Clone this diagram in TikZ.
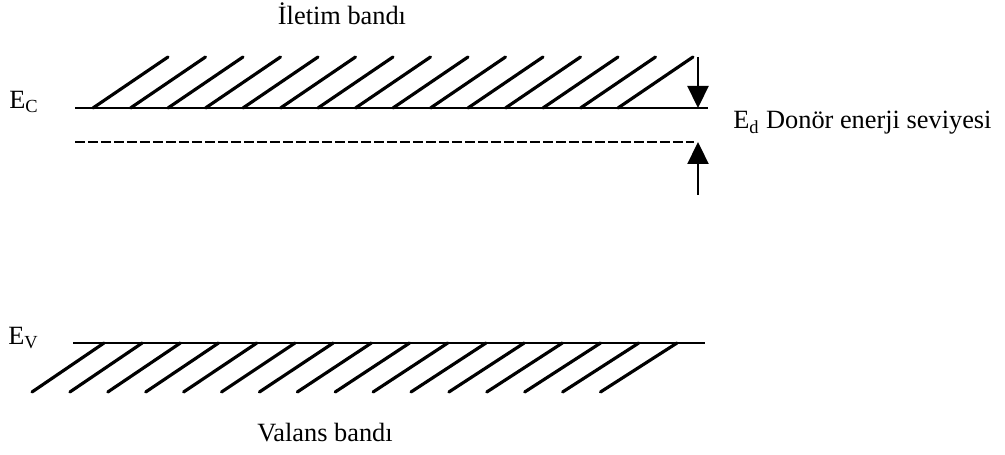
\documentclass[tikz,border=0pt]{standalone}
\usepackage{fontspec}
\setmainfont{Liberation Serif}
\usepackage{tikz}
\usetikzlibrary{arrows.meta, positioning}

\begin{document}
\begin{tikzpicture}[
    x=0.02cm, y=-0.02cm,
    lbl/.style={inner sep=0pt, font=\fontsize{15}{18}\selectfont},
    level/.style={line width=1.6pt},
    donor/.style={line width=1.3pt, dash pattern=on 2mm off 0.6mm},
    hatch/.style={line width=1.8pt, line cap=round},
    arrow/.style={-{Triangle[length=4.4mm, width=4.2mm]}, line width=1.3pt}
]
\useasboundingbox (0,0) rectangle (1005,455);

% Conduction band
\coordinate (ecL) at (75,108);
\coordinate (ecR) at (708,108);
\draw[level] (ecL) -- (ecR);
\foreach \i in {0,...,14} {
    \draw[hatch] ({93+37.5*\i},108) -- ({168+37.5*\i},57);
}

% Donor level
\coordinate (edL) at (75,142);
\coordinate (edR) at (694,142);
\draw[donor] (edL) -- (edR);

% Valence band
\coordinate (evL) at (73,343);
\coordinate (evR) at (705,343);
\draw[level] (evL) -- (evR);
\foreach \i in {0,...,15} {
    \draw[hatch] ({32+37.9*\i},392) -- ({104+38.2*\i},343);
}

% Arrows
\coordinate (downTop) at (698,57);
\coordinate (downTip) at (698,108);
\coordinate (upBot) at (698,195);
\coordinate (upTip) at (698,142);
\draw[arrow] (downTop) -- (downTip);
\draw[arrow] (upBot) -- (upTip);

% Labels
\node[lbl, anchor=base] (iletim) at (342,25) {İletim bandı};
\node[lbl, anchor=base west] (ec) at (9,109) {E\textsubscript{C}};
\node[lbl, anchor=base west] (ed) at (733,129) {E\textsubscript{d} Donör enerji seviyesi};
\node[lbl, anchor=base west] (ev) at (8,345) {E\textsubscript{V}};
\node[lbl, anchor=base] (valans) at (325,442) {Valans bandı};

\end{tikzpicture}
\end{document}
